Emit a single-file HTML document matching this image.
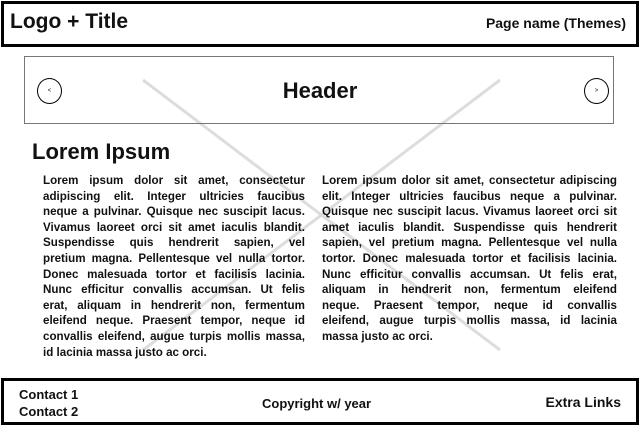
<!DOCTYPE html>
<html><head><style>
body{margin:0;width:640px;height:426px;background:#fff;position:relative;overflow:hidden;font-family:"Liberation Sans",sans-serif;color:#111}
.abs{position:absolute}
.bar{position:absolute;border:3px solid #000;box-sizing:border-box;left:1px;width:638px}
.col{position:absolute;font-size:11.6px;font-weight:bold;line-height:15.6px}
.col div{white-space:nowrap;display:flex;justify-content:space-between}
.col div.l{justify-content:flex-start}
</style></head><body>
<svg class="abs" style="left:0;top:0" width="640" height="426">
<line x1="143" y1="80" x2="500" y2="350" stroke="#ddd" stroke-width="3"/>
<line x1="500" y1="80" x2="143" y2="350" stroke="#ddd" stroke-width="3"/>
</svg>
<div class="bar" style="top:1px;height:46px"></div>
<div class="abs" style="left:10px;top:10px;font-size:21px;font-weight:bold">Logo + Title</div>
<div class="abs" style="right:14px;top:15px;font-size:14px;font-weight:bold">Page name (Themes)</div>
<div class="abs" style="left:24px;top:56px;width:590px;height:68px;border:1px solid #777;box-sizing:border-box"></div>
<div class="abs" style="left:37px;top:78px;width:25px;height:26px;border:1px solid #000;border-radius:50%;box-sizing:border-box;font-size:6px;text-align:center;line-height:24px">&lt;</div>
<div class="abs" style="left:584px;top:78px;width:25px;height:26px;border:1px solid #000;border-radius:50%;box-sizing:border-box;font-size:6px;text-align:center;line-height:24px">&gt;</div>
<div class="abs" style="left:0;width:640px;top:78px;text-align:center;font-size:22px;font-weight:bold">Header</div>
<div class="abs" style="left:32px;top:139px;font-size:22px;font-weight:bold">Lorem Ipsum</div>
<div class="col" style="left:43px;top:173px;width:262px">
<div><span>Lorem</span><span>ipsum</span><span>dolor</span><span>sit</span><span>amet,</span><span>consectetur</span></div>
<div><span>adipiscing</span><span>elit.</span><span>Integer</span><span>ultricies</span><span>faucibus</span></div>
<div><span>neque</span><span>a</span><span>pulvinar.</span><span>Quisque</span><span>nec</span><span>suscipit</span><span>lacus.</span></div>
<div><span>Vivamus</span><span>laoreet</span><span>orci</span><span>sit</span><span>amet</span><span>iaculis</span><span>blandit.</span></div>
<div><span>Suspendisse</span><span>quis</span><span>hendrerit</span><span>sapien,</span><span>vel</span></div>
<div><span>pretium</span><span>magna.</span><span>Pellentesque</span><span>vel</span><span>nulla</span><span>tortor.</span></div>
<div><span>Donec</span><span>malesuada</span><span>tortor</span><span>et</span><span>facilisis</span><span>lacinia.</span></div>
<div><span>Nunc</span><span>efficitur</span><span>convallis</span><span>accumsan.</span><span>Ut</span><span>felis</span></div>
<div><span>erat,</span><span>aliquam</span><span>in</span><span>hendrerit</span><span>non,</span><span>fermentum</span></div>
<div><span>eleifend</span><span>neque.</span><span>Praesent</span><span>tempor,</span><span>neque</span><span>id</span></div>
<div><span>convallis</span><span>eleifend,</span><span>augue</span><span>turpis</span><span>mollis</span><span>massa,</span></div>
<div class="l"><span>id lacinia massa justo ac orci.</span></div>
</div>
<div class="col" style="left:322px;top:173px;width:295px">
<div><span>Lorem</span><span>ipsum</span><span>dolor</span><span>sit</span><span>amet,</span><span>consectetur</span><span>adipiscing</span></div>
<div><span>elit.</span><span>Integer</span><span>ultricies</span><span>faucibus</span><span>neque</span><span>a</span><span>pulvinar.</span></div>
<div><span>Quisque</span><span>nec</span><span>suscipit</span><span>lacus.</span><span>Vivamus</span><span>laoreet</span><span>orci</span><span>sit</span></div>
<div><span>amet</span><span>iaculis</span><span>blandit.</span><span>Suspendisse</span><span>quis</span><span>hendrerit</span></div>
<div><span>sapien,</span><span>vel</span><span>pretium</span><span>magna.</span><span>Pellentesque</span><span>vel</span><span>nulla</span></div>
<div><span>tortor.</span><span>Donec</span><span>malesuada</span><span>tortor</span><span>et</span><span>facilisis</span><span>lacinia.</span></div>
<div><span>Nunc</span><span>efficitur</span><span>convallis</span><span>accumsan.</span><span>Ut</span><span>felis</span><span>erat,</span></div>
<div><span>aliquam</span><span>in</span><span>hendrerit</span><span>non,</span><span>fermentum</span><span>eleifend</span></div>
<div><span>neque.</span><span>Praesent</span><span>tempor,</span><span>neque</span><span>id</span><span>convallis</span></div>
<div><span>eleifend,</span><span>augue</span><span>turpis</span><span>mollis</span><span>massa,</span><span>id</span><span>lacinia</span></div>
<div class="l"><span>massa justo ac orci.</span></div>
</div>
<div class="bar" style="top:378px;height:47px"></div>
<div class="abs" style="left:19px;top:386px;font-size:13px;font-weight:bold;line-height:17px">Contact 1<br>Contact 2</div>
<div class="abs" style="left:262px;top:396px;font-size:13px;font-weight:bold">Copyright w/ year</div>
<div class="abs" style="right:19px;top:394px;font-size:14px;font-weight:bold">Extra Links</div>
</body></html>
